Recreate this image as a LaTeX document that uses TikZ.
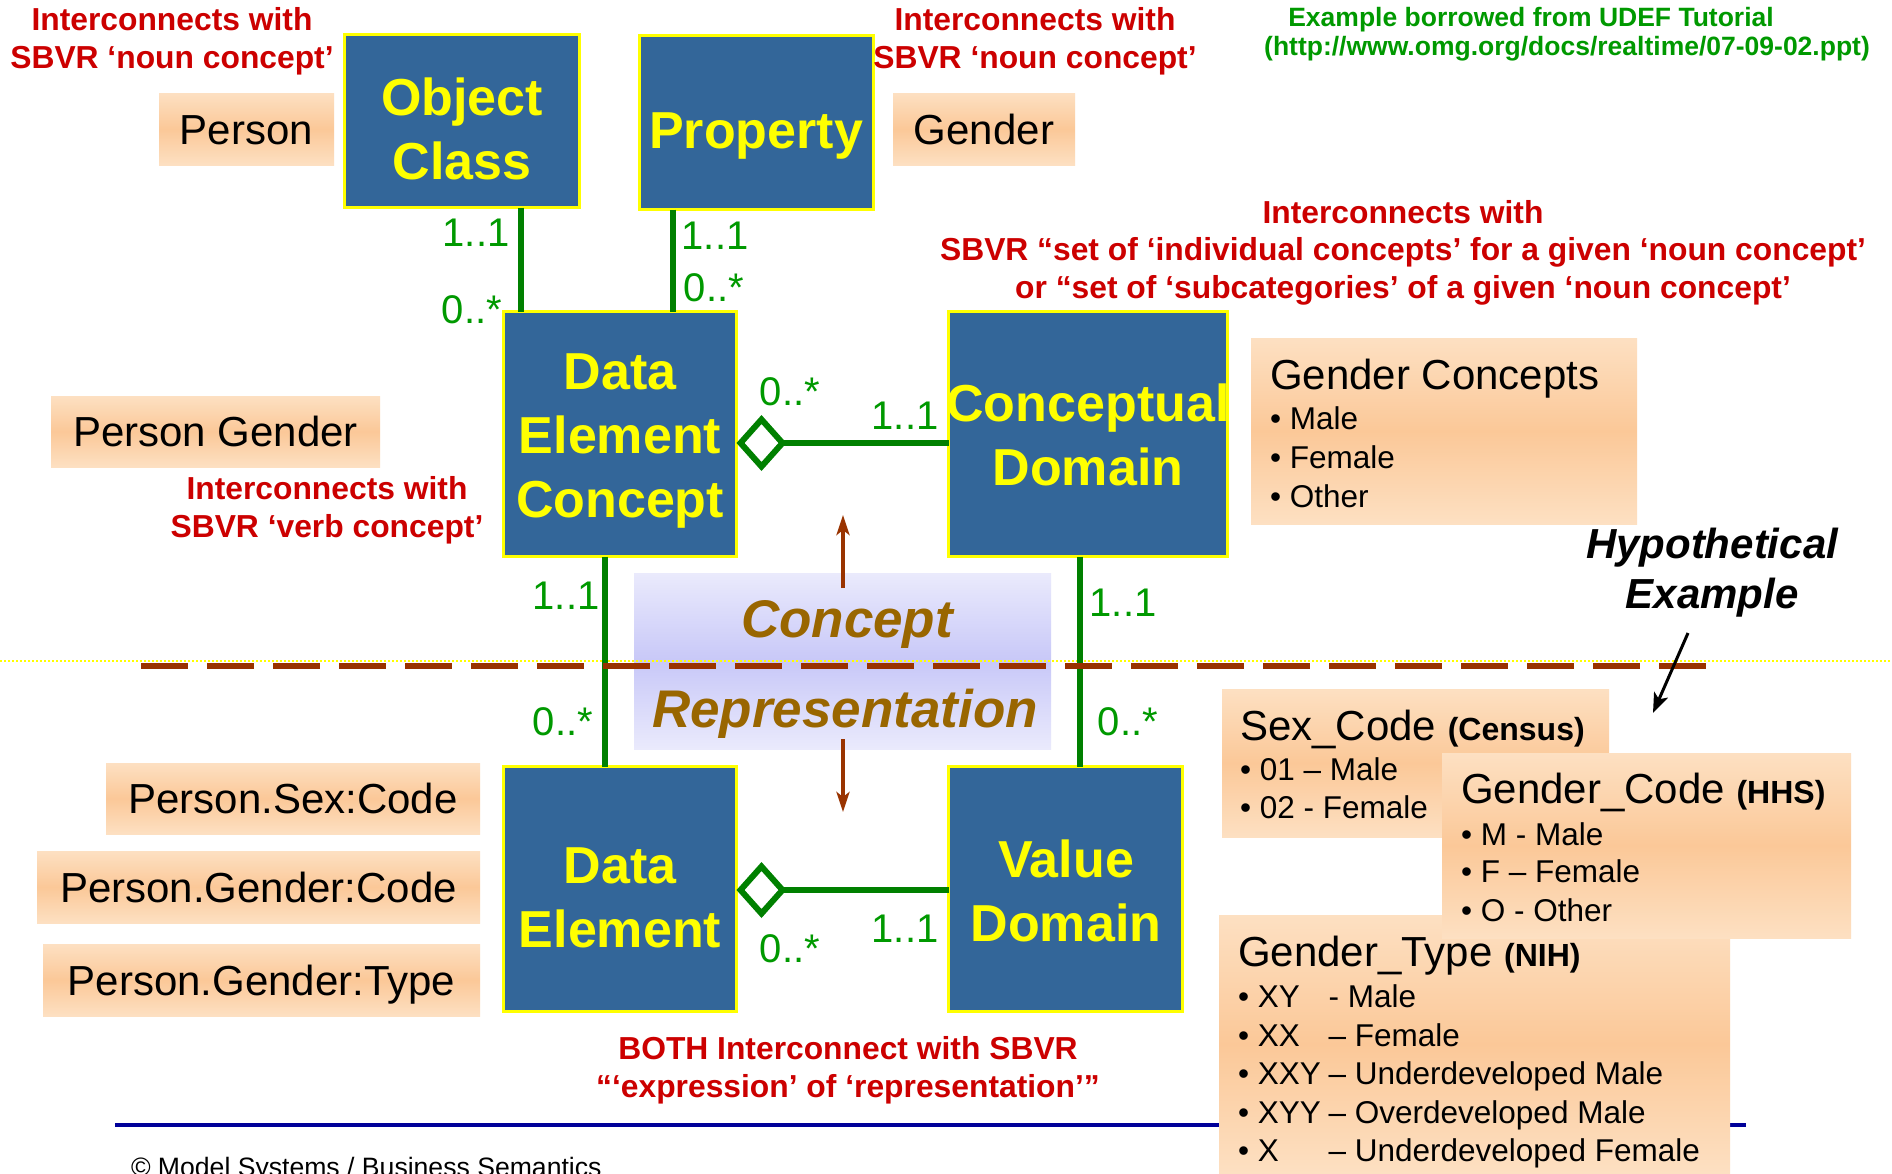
\documentclass[tikz,border=0pt]{standalone}
\usepackage{fontspec}
\setmainfont{Liberation Sans}
\usetikzlibrary{arrows.meta,calc}
\definecolor{boxblue}{HTML}{336699}
\definecolor{ylw}{HTML}{FFFF00}
\definecolor{grn}{HTML}{008000}
\definecolor{grntxt}{HTML}{009900}
\definecolor{redtxt}{HTML}{CC0000}
\definecolor{brn}{HTML}{993300}
\definecolor{gold}{HTML}{996600}
\definecolor{peachlt}{HTML}{FDE0C2}
\definecolor{peachdk}{HTML}{FBC898}
\definecolor{lavlt}{HTML}{EAEAFC}
\definecolor{lavdk}{HTML}{C8C8F8}
\definecolor{navy}{HTML}{000099}
\begin{document}
\begin{tikzpicture}[x=1pt,y=-1pt,
  every node/.style={inner sep=0pt,outer sep=0pt},
  umlbox/.style={rectangle,draw=ylw,line width=3pt,fill=boxblue},
  boxtext/.style={text=ylw,font=\fontsize{52}{64}\selectfont\bfseries,align=center,text depth=0pt,anchor=south},
  peachbox/.style={rectangle,top color=peachlt,bottom color=peachlt,middle color=peachdk},
  peachtext/.style={peachbox,font=\fontsize{42}{50}\selectfont,text height=30pt,text depth=0pt},
  redtext/.style={text=redtxt,font=\fontsize{31.8}{37.5}\selectfont\bfseries,align=center,text depth=0pt,anchor=south},
  srctext/.style={text=grntxt,font=\fontsize{26.5}{32}\selectfont\bfseries,text depth=0pt,anchor=south},
  mult/.style={text=grntxt,font=\fontsize{40}{46}\selectfont,text height=28.6pt,text depth=0pt},
  conn/.style={draw=grn,line width=6pt},
  agg/.style={conn,-{Diamond[fill=white,length=50pt,width=56pt]}},
  head/.style={font=\fontsize{42}{50}\selectfont,text depth=0pt,anchor=south west},
  bul/.style={font=\fontsize{31.5}{38}\selectfont,text depth=0pt,anchor=south west},
  crbox/.style={rectangle,top color=lavlt,bottom color=lavlt,middle color=lavdk},
  crtext/.style={text=gold,font=\fontsize{53}{60}\selectfont\bfseries\itshape,text depth=0pt,anchor=south},
  brarrow/.style={draw=brn,line width=4pt,-{Stealth[length=20pt,width=13pt,inset=5pt]}},
  blkarrow/.style={draw=black,line width=3pt,-{Stealth[length=20pt,width=15pt,inset=5pt]}}
]
\clip (0,0) rectangle (1892,1173);
\fill[white] (0,0) rectangle (1892,1173);

% concept / representation band
\node[crbox,minimum width=417pt,minimum height=176pt] (cr) at (842.5,661) {};
\coordinate (dl1) at (0,661);
\coordinate (dl2) at (1892,661);
\draw[ylw,line width=2pt,dash pattern=on 2pt off 2pt] (dl1) -- (dl2);

\coordinate (xa) at (521,0);
\coordinate (xb) at (673,0);
\coordinate (xc) at (605,0);
\coordinate (xd) at (1080,0);

% boxes
\node[umlbox,minimum width=235pt,minimum height=173pt] (oc) at (462,121) {};
\node[umlbox,minimum width=234pt,minimum height=174pt] (prop) at (756.5,122.5) {};
\node[umlbox,minimum width=233pt,minimum height=245pt] (dec) at (620,434) {};
\node[umlbox,minimum width=279pt,minimum height=245pt] (cd) at (1088,434) {};
\node[umlbox,minimum width=233pt,minimum height=245pt] (de) at (620,889) {};
\node[umlbox,minimum width=234pt,minimum height=245pt] (vd) at (1065.5,889) {};

\draw[conn] (oc.south -| xa) -- (dec.north -| xa);
\draw[conn] (prop.south -| xb) -- (dec.north -| xb);
\draw[conn] (dec.south -| xc) -- (de.north -| xc);
\draw[conn] (cd.south -| xd) -- (vd.north -| xd);

% dashed separator
\coordinate (dd1) at (141,666);
\coordinate (dd2) at (1707,666);
\draw[brn,line width=6pt,dash pattern=on 47pt off 19pt] (dd1) -- (dd2);

% box texts
\node[boxtext] (oct) at (462,179) {Object\\Class};
\node[boxtext] (propt) at (756,148) {Property};
\node[boxtext] (dect) at (620,517) {Data\\Element\\Concept};
\node[boxtext] (cdt) at (1088,485) {Conceptual\\Domain};
\node[boxtext] (det) at (620,947) {Data\\Element};
\node[boxtext] (vdt) at (1066,941) {Value\\Domain};

% aggregations
\coordinate (ya) at (0,443);
\coordinate (yb) at (0,890);
\draw[agg] (cd.west |- ya) -- (dec.east |- ya);
\draw[agg] (vd.west |- yb) -- (de.east |- yb);

% multiplicities
\node[mult] (m1) at (476,232) {1..1};
\node[mult] (m2) at (472,309) {0..*};
\node[mult] (m3) at (715,235) {1..1};
\node[mult] (m4) at (714,287) {0..*};
\node[mult] (m5) at (790,391) {0..*};
\node[mult] (m6) at (905,415) {1..1};
\node[mult] (m7) at (566,595) {1..1};
\node[mult] (m8) at (563,721) {0..*};
\node[mult] (m9) at (1123,602) {1..1};
\node[mult] (m10) at (1128,721) {0..*};
\node[mult] (m11) at (790,948) {0..*};
\node[mult] (m12) at (905,928) {1..1};

% concept / representation labels and arrows
\node[crtext] (crc) at (847,637) {Concept};
\node[crtext] (crr) at (845,727) {Representation};
\coordinate (upTip) at (843,515);
\coordinate (dnTip) at (843,812);
\draw[brarrow] ($(cr.north)+(0.5,15)$) -- (upTip);
\draw[brarrow] ($(cr.south)+(0.5,-10)$) -- (dnTip);

% peach single-line boxes
\node[peachtext,minimum width=175pt,minimum height=72pt] (person) at (246.5,129) {Person};
\node[peachtext,minimum width=182pt,minimum height=72pt] (gender) at (984,129) {Gender};
\node[peachtext,minimum width=329pt,minimum height=71pt] (pg) at (215.5,431.5) {Person Gender};
\node[peachtext,minimum width=374pt,minimum height=71pt] (psc) at (293,798.5) {Person.Sex:Code};
\node[peachtext,minimum width=443pt,minimum height=72pt] (pgc) at (258.5,887) {Person.Gender:Code};
\node[peachtext,minimum width=437pt,minimum height=72pt] (pgt) at (261.5,980) {Person.Gender:Type};

% Gender concepts
\node[peachbox,minimum width=386pt,minimum height=186pt] (gc) at (1444,431) {};
\node[head] (gch) at (1270,389) {Gender Concepts};
\node[bul] (gc1) at (1270,429) {• Male};
\node[bul] (gc2) at (1270,468) {• Female};
\node[bul] (gc3) at (1270,507) {• Other};

% red texts
\node[redtext] (rtl) at (172,68) {Interconnects with\\SBVR ‘noun concept’};
\node[redtext] (rtc) at (1035,68) {Interconnects with\\SBVR ‘noun concept’};
\node[redtext] (rverb) at (327,537) {Interconnects with\\SBVR ‘verb concept’};
\node[redtext] (rset) at (1403,298) {Interconnects with\\SBVR “set of ‘individual concepts’ for a given ‘noun concept’\\or “set of ‘subcategories’ of a given ‘noun concept’};
\node[redtext] (rboth) at (848,1097) {BOTH Interconnect with SBVR\\“‘expression’ of ‘representation’”};

% source
\node[srctext] (src1) at (1531,26) {Example borrowed from UDEF Tutorial};
\node[srctext] (src2) at (1567,55) {(http://www.omg.org/docs/realtime/07-09-02.ppt)};

% hypothetical example
\node[font=\fontsize{42}{50}\selectfont\bfseries\itshape,align=center,text depth=0pt,anchor=south] (hypo) at (1712,608) {Hypothetical\\Example};
\coordinate (hB) at (1653,713);
\draw[blkarrow] ($(hypo.south)+(-24,25)$) -- (hB);

% code lists
\node[peachbox,minimum width=387pt,minimum height=148pt] (sex) at (1415.5,763) {};
\node[head] (sexh) at (1240,740) {Sex\_Code {\fontsize{32}{38}\selectfont\bfseries (Census)}};
\node[bul] (sex1) at (1240,780) {• 01 – Male};
\node[bul] (sex2) at (1240,818) {• 02 - Female};

\coordinate (bl1) at (115,1125);
\coordinate (bl2) at (1746,1125);
\draw[navy,line width=4pt] (bl1) -- (bl2);

\node[peachbox,minimum width=511pt,minimum height=258pt] (gtype) at (1474.5,1044) {};
\node[head] (gtypeh) at (1238,966) {Gender\_Type {\fontsize{32}{38}\selectfont\bfseries (NIH)}};
\node[bul] (gt1) at (1238,1007) {• \makebox[2.25em][l]{XY}- Male};
\node[bul] (gt2) at (1238,1046) {• \makebox[2.25em][l]{XX}– Female};
\node[bul] (gt3) at (1238,1084) {• \makebox[2.25em][l]{XXY}– Underdeveloped Male};
\node[bul] (gt4) at (1238,1123) {• \makebox[2.25em][l]{XYY}– Overdeveloped Male};
\node[bul] (gt5) at (1238,1161) {• \makebox[2.25em][l]{X}– Underdeveloped Female};

\node[peachbox,minimum width=409pt,minimum height=185pt] (gcode) at (1646.5,845.5) {};
\node[head] (gcodeh) at (1461,803) {Gender\_Code {\fontsize{32}{38}\selectfont\bfseries (HHS)}};
\node[bul] (gcode1) at (1461,845) {• M - Male};
\node[bul] (gcode2) at (1461,882) {• F – Female};
\node[bul] (gcode3) at (1461,921) {• O - Other};

% footer
\node[font=\fontsize{26.6}{30}\selectfont,text depth=0pt,anchor=south west] (foot) at (131,1176) {© Model Systems / Business Semantics};
\end{tikzpicture}
\end{document}
